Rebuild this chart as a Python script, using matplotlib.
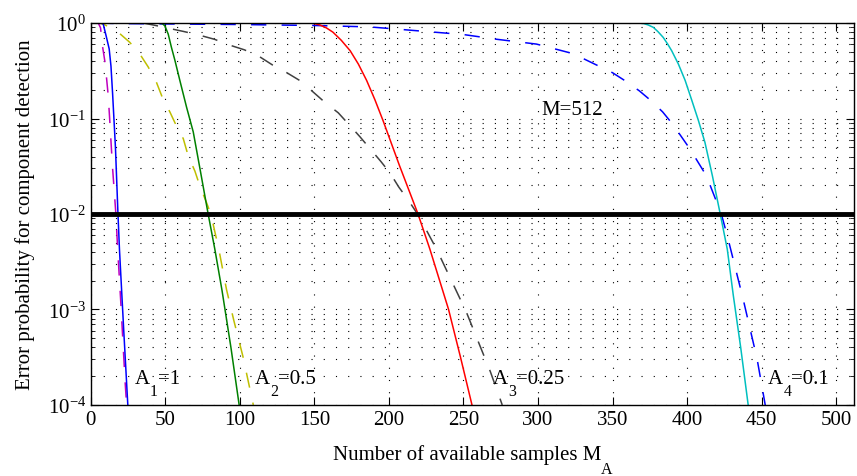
"""
Error probability for component detection vs number of available samples.
MATLAB-style log plot, M=512, four amplitude levels.
"""

import numpy as np
import matplotlib
matplotlib.use("Agg")
import matplotlib.pyplot as plt
from matplotlib.ticker import LogLocator, NullFormatter
from matplotlib.transforms import offset_copy

plt.rcParams["font.family"] = ["Liberation Serif", "DejaVu Serif"]
plt.rcParams["mathtext.fontset"] = "stix"

# ── Data (x = samples M_A, y = log10 of probability) ──

A1_solid_x = [1, 7, 8.3, 10.5, 12.3, 13.5, 14.6, 16.5, 18.2, 19.2, 22, 24.8]
A1_solid_logy = [0, 0, -0.01, -0.15, -0.27, -0.45, -0.74, -1.3, -2.0, -2.37,
                 -3.2, -4.0]
A1_dash_x = [1, 5, 6.5, 7.8, 9.4, 10.5, 11.6, 12.5, 14.5, 16.8, 18, 20, 23,
             24]
A1_dash_logy = [0, 0, -0.05, -0.24, -0.4, -0.57, -0.75, -0.97, -1.5, -2.0,
                -2.37, -2.9, -3.76, -4.0]

A2_solid_x = [1, 46, 48, 49.7, 51.9, 54, 56.4, 59.7, 64.2, 68.7, 73.5, 78.7,
              83.2, 88, 94, 99.5]
A2_solid_logy = [0, 0, -0.005, -0.03, -0.115, -0.25, -0.39, -0.6, -0.88,
                 -1.14, -1.55, -2.0, -2.37, -2.8, -3.4, -4.0]
A2_dash_x = [1, 5, 8.3, 17.2, 26, 32.7, 38.5, 44, 48.5, 53, 57.5, 62, 65.3,
             69.8, 73, 77.6, 80.5, 86, 91, 96, 102, 109]
A2_dash_logy = [0, 0, -0.01, -0.08, -0.2, -0.32, -0.46, -0.62, -0.8, -0.93,
                -1.08, -1.21, -1.39, -1.55, -1.7, -1.88, -2.0, -2.38, -2.79,
                -3.12, -3.49, -4.0]

A3_solid_x = [1, 148, 150, 153.7, 158, 162.4, 168, 174, 179.5, 185, 190.5,
              196, 207, 219.5, 227.5, 240, 248, 255.7]
A3_solid_logy = [0, 0, -0.005, -0.02, -0.05, -0.095, -0.18, -0.29, -0.43,
                 -0.6, -0.8, -1.02, -1.49, -2.0, -2.37, -3.0, -3.5, -4.0]
A3_dash_x = [35, 42, 50.8, 62, 72.5, 83, 93, 103, 113, 122, 131.5, 140, 149,
             157, 166, 173, 180.5, 187, 194.6, 200.7, 206.7, 212.8, 220, 232,
             252, 268, 276]
A3_dash_logy = [0, -0.02, -0.05, -0.087, -0.125, -0.17, -0.23, -0.28, -0.35,
                -0.44, -0.52, -0.6, -0.72, -0.83, -0.94, -1.06, -1.19, -1.31,
                -1.45, -1.57, -1.72, -1.85, -2.02, -2.37, -3.03, -3.65, -4.0]

A4_solid_x = [1, 368, 371, 374, 377.4, 380.5, 384, 387, 389.7, 394.2, 398.7,
              403.2, 407.6, 412, 417, 422, 427, 431, 436, 441]
A4_solid_logy = [0, 0, -0.005, -0.02, -0.045, -0.09, -0.15, -0.22, -0.29,
                 -0.43, -0.6, -0.81, -1.02, -1.25, -1.6, -1.98, -2.37, -2.85,
                 -3.4, -4.0]
A4_dash_x = [5, 20, 60, 100, 150, 187, 203, 250, 272.5, 299, 323.5, 350, 358,
             368, 375.6, 383.6, 390.4, 402, 413, 423, 427.5, 437.6, 447, 453]
A4_dash_logy = [0, -0.005, -0.01, -0.015, -0.025, -0.04, -0.06, -0.12, -0.17,
                -0.22, -0.32, -0.52, -0.6, -0.71, -0.81, -0.93, -1.06, -1.32,
                -1.6, -2.0, -2.26, -2.89, -3.52, -4.05]

threshold = 1e-2
xticks = [0, 50, 100, 150, 200, 250, 300, 350, 400, 450, 500]
curve_subs = ["1", "2", "3", "4"]
curve_vals = ["=1", "=0.5", "=0.25", "=0.1"]
label_x = [29.5, 110, 270, 454.5]

# MATLAB classic colours
C_BLUE, C_MAG = "#0000ff", "#bf00bf"
C_GREEN, C_YEL = "#008000", "#bfbf00"
C_RED, C_GRAY = "#ff0000", "#404040"
C_CYAN = "#00bfbf"

FS = 15          # main text size
FS_SUB = 11.5    # subscript size


def _plot(ax, x, logy, color, dashed=False):
    y = 10.0 ** np.asarray(logy)
    if dashed:
        ax.plot(x, y, color=color, linewidth=1.1, dashes=(10, 10))
    else:
        ax.plot(x, y, color=color, linewidth=1.1)


def _sub_text(fig, trans, x, y, parts, ha="left", drop=11):
    """MATLAB-like text with a low subscript: parts = [(str, is_sub), ...]"""
    renderer = fig.canvas.get_renderer()
    texts, offs, dx = [], [], 0.0
    for s, sub in parts:
        t = fig.text(x, y, s, fontsize=FS_SUB if sub else FS, va="baseline",
                     ha="left")
        texts.append((t, sub))
        offs.append(dx)
        t.set_transform(offset_copy(trans, fig=fig, x=dx, y=0, units="dots"))
        dx += t.get_window_extent(renderer).width
    shift = -dx / 2 if ha == "center" else 0.0
    for (t, sub), o in zip(texts, offs):
        t.set_transform(offset_copy(trans, fig=fig, x=o + shift,
                                    y=-drop if sub else 0, units="dots"))
    return texts


fig = plt.figure(figsize=(8.57, 4.77), dpi=100)
ax = fig.add_axes([0.106, 0.149, 0.8905, 0.8005])

ax.set_yscale("log")

# MATLAB dotted grid: major x/y, minor y
grid_style = dict(color="k", linewidth=0.8, linestyle=(0, (1, 10)))
ax.grid(True, which="major", axis="both", **grid_style)
ax.grid(True, which="minor", axis="y", **grid_style)

_plot(ax, A4_dash_x, A4_dash_logy, C_BLUE, dashed=True)
_plot(ax, A3_dash_x, A3_dash_logy, C_GRAY, dashed=True)
_plot(ax, A2_dash_x, A2_dash_logy, C_YEL, dashed=True)
_plot(ax, A1_dash_x, A1_dash_logy, C_MAG, dashed=True)
_plot(ax, A1_solid_x, A1_solid_logy, C_BLUE)
_plot(ax, A2_solid_x, A2_solid_logy, C_GREEN)
_plot(ax, A3_solid_x, A3_solid_logy, C_RED)
_plot(ax, A4_solid_x, A4_solid_logy, C_CYAN)

ax.axhline(threshold, color="k", linewidth=3.5)

ax.set_xlim(0, 512)
ax.set_ylim(1e-4, 1)
ax.set_xticks(xticks)
ax.yaxis.set_major_locator(LogLocator(base=10, numticks=10))
ax.yaxis.set_minor_locator(LogLocator(base=10, subs=np.arange(2, 10),
                                      numticks=20))
ax.yaxis.set_minor_formatter(NullFormatter())

ax.tick_params(which="both", direction="in", top=True, right=True,
               labelsize=FS)
ax.tick_params(which="major", length=6)
ax.tick_params(which="minor", length=3)
for s in ax.spines.values():
    s.set_linewidth(1.0)

ax.text(302.5, 10 ** -0.9, "M=512", fontsize=FS, va="center", ha="left")
for sub, val, lx in zip(curve_subs, curve_vals, label_x):
    _sub_text(fig, ax.transData, lx, 10 ** -3.77,
              [("A", False), (sub, True), (val, False)], drop=12)

# x label with MATLAB-style subscript, centred under the axes
_sub_text(fig, fig.transFigure, 0.5513, 1 - 460 / 477,
          [("Number of available samples M", False), ("A", True)],
          ha="center", drop=14)
ax.set_ylabel("Error probability for component detection", fontsize=FS,
              labelpad=9)

plt.savefig("out.png", dpi=100)
plt.close()
